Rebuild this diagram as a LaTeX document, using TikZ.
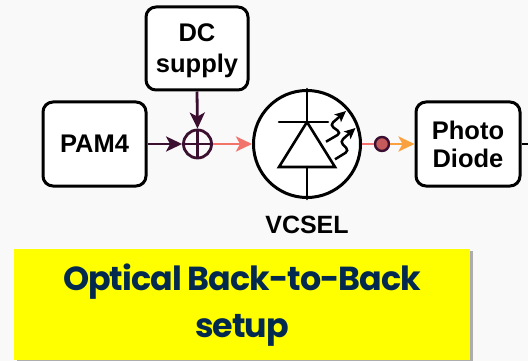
\documentclass[tikz,border=0pt]{standalone}
\usepackage{fontspec}
\setmainfont{Liberation Sans}
\newfontfamily\titlefont{Poppins}
\usetikzlibrary{arrows.meta,shadows,calc}
\definecolor{ink}{HTML}{3B0F30}
\definecolor{salmon}{HTML}{F2736B}
\definecolor{amber}{HTML}{F9A03F}
\definecolor{navy}{HTML}{03294F}
\definecolor{bg}{HTML}{F9F9F9}
\definecolor{hilite}{HTML}{FFFF00}
\tikzset{
  x=1pt,y=-1pt,
  blockbox/.style={draw=black,line width=3pt,rounded corners=10pt,fill=white,inner sep=0pt,align=center,font=\fontsize{25.5}{28}\selectfont\bfseries},
  flow/.style={line width=2.8pt,-{Stealth[length=16pt,width=15pt,inset=4pt]}},
  sym/.style={draw=black,line width=2.6pt,line cap=round},
  glow/.style={draw=black,line width=2.5pt,rounded corners=4pt,-{Stealth[length=11pt,width=10pt,inset=2.5pt]}},
}
\begin{document}
\begin{tikzpicture}
\useasboundingbox (0,0) rectangle (528,361);
\fill[bg] (0,0) rectangle (528,361);
\node[blockbox,minimum width=103pt,minimum height=84pt] (pam) at (94.5,144) {PAM4};
\node[blockbox,minimum width=102pt,minimum height=83pt] (dc) at (197,48.5) {\rule{0pt}{22pt}DC\\[3pt]supply};
\node[blockbox,minimum width=104pt,minimum height=84pt] (pd) at (468,144) {Photo\\Diode};
\node[draw=ink,line width=2.8pt,circle,minimum size=28pt,inner sep=0pt] (sum) at (197.5,144) {};
\draw[ink,line width=2.2pt] (sum.north) -- (sum.south) (sum.west) -- (sum.east);
\node[draw=black,line width=3pt,circle,minimum size=107pt,inner sep=0pt,fill=white] (vc) at (307,144) {};
\coordinate (apex) at (307,122);
\coordinate (bl) at (279,167);
\coordinate (br) at (335,167);
\coordinate (bbar) at (307,167);
\draw[sym,line join=miter] (apex) -- (bl) -- (br) -- cycle;
\draw[sym] (279,122) -- (328,122);
\draw[sym] (vc.north) -- (apex);
\draw[sym] (bbar) -- (vc.south);
\draw[glow] (326,141.7) -- (341,133) -- (330,125) -- (346,111);
\draw[glow] (335,159.3) -- (349,150.7) -- (340,141.7) -- (355.5,128);
\draw[flow,ink] (pam.east) -- (sum.west);
\draw[flow,ink] (dc.south) -- (sum.north);
\draw[flow,salmon] (sum.east) -- (vc.west);
\node[draw=ink,line width=2.4pt,circle,minimum size=14pt,inner sep=0pt,fill=salmon!75!ink] (dot) at (382,144) {};
\draw[salmon,line width=2.8pt] (vc.east) -- (dot.west);
\draw[flow,amber] (dot.east) -- (pd.west);
\coordinate (outr) at (528,144);
\draw[black,line width=2.8pt] (pd.east) -- (outr);
\node[font=\fontsize{25}{28}\selectfont\bfseries] (vl) at (307,225) {VCSEL};
\node[fill=hilite,minimum width=456pt,minimum height=111pt,inner sep=0pt,align=center,
  drop shadow={shadow xshift=3pt,shadow yshift=-2pt,fill=black,opacity=0.3},
  text=navy,font=\titlefont\fontsize{33.3}{47}\selectfont\bfseries] (title) at (242,304.5)
  {\rule{0pt}{28pt}\addfontfeatures{LetterSpace=-3}Optical Back-to-Back\\\addfontfeatures{LetterSpace=-3}setup};
\end{tikzpicture}
\end{document}
